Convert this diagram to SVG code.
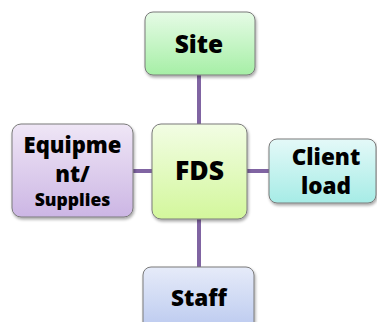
<svg xmlns="http://www.w3.org/2000/svg" width="377" height="322" viewBox="0 0 377 322">
<defs>
<linearGradient id="gSite" x1="0" y1="0" x2="0" y2="1"><stop offset="0" stop-color="#e6fbe6"/><stop offset="1" stop-color="#a6efa6"/></linearGradient>
<linearGradient id="gFds" x1="0" y1="0" x2="0" y2="1"><stop offset="0" stop-color="#f2fde4"/><stop offset="1" stop-color="#d3f79c"/></linearGradient>
<linearGradient id="gEq" x1="0" y1="0" x2="0" y2="1"><stop offset="0" stop-color="#efe6f6"/><stop offset="1" stop-color="#ccb6e4"/></linearGradient>
<linearGradient id="gCl" x1="0" y1="0" x2="0" y2="1"><stop offset="0" stop-color="#e4f9f8"/><stop offset="1" stop-color="#a6ece6"/></linearGradient>
<linearGradient id="gSt" x1="0" y1="0" x2="0" y2="1"><stop offset="0" stop-color="#e6ebf9"/><stop offset="1" stop-color="#b6c6ee"/></linearGradient>
<filter id="sh" x="-10%" y="-10%" width="130%" height="130%"><feGaussianBlur in="SourceAlpha" stdDeviation="1.5"/><feOffset dx="1" dy="2"/><feComponentTransfer><feFuncA type="linear" slope="0.35"/></feComponentTransfer><feMerge><feMergeNode/><feMergeNode in="SourceGraphic"/></feMerge></filter>
</defs>
<style>
.box{stroke:#7a7a7a;stroke-width:1;filter:url(#sh)}
.t{font-family:"Open Sans","Noto Sans","Liberation Sans",sans-serif;font-weight:800;fill:#000;text-anchor:middle}
.c{stroke:#8064a2;stroke-width:4;fill:none}
</style>
<g id="connectors">
<line class="c" x1="199" y1="74" x2="199" y2="125"/>
<line class="c" x1="199" y1="218" x2="199" y2="268"/>
<line class="c" x1="132" y1="171" x2="153" y2="171"/>
<line class="c" x1="246" y1="171" x2="270" y2="171"/>
</g>
<g id="site">
<rect class="box" x="145" y="12" width="110" height="63" rx="8" fill="url(#gSite)"/>
<text class="t" x="199" y="53" font-size="24.5">Site</text>
</g>
<g id="fds">
<rect class="box" x="152" y="124" width="95" height="95" rx="9" fill="url(#gFds)"/>
<text class="t" x="199.5" y="180" font-size="26.5">FDS</text>
</g>
<g id="equipment">
<rect class="box" x="12" y="124" width="121" height="93" rx="9" fill="url(#gEq)"/>
<text class="t" x="72.5" y="153" font-size="22">Equipme</text>
<text class="t" x="72.5" y="182" font-size="22">nt/</text>
<text class="t" x="72.5" y="206" font-size="17.5">Supplies</text>
</g>
<g id="client">
<rect class="box" x="269" y="139" width="107" height="64" rx="8" fill="url(#gCl)"/>
<text class="t" x="326" y="165" font-size="22.5">Client</text>
<text class="t" x="326" y="194" font-size="22.5">load</text>
</g>
<g id="staff">
<rect class="box" x="143" y="267" width="111" height="70" rx="8" fill="url(#gSt)"/>
<text class="t" x="199" y="306" font-size="22.5">Staff</text>
</g>
</svg>
